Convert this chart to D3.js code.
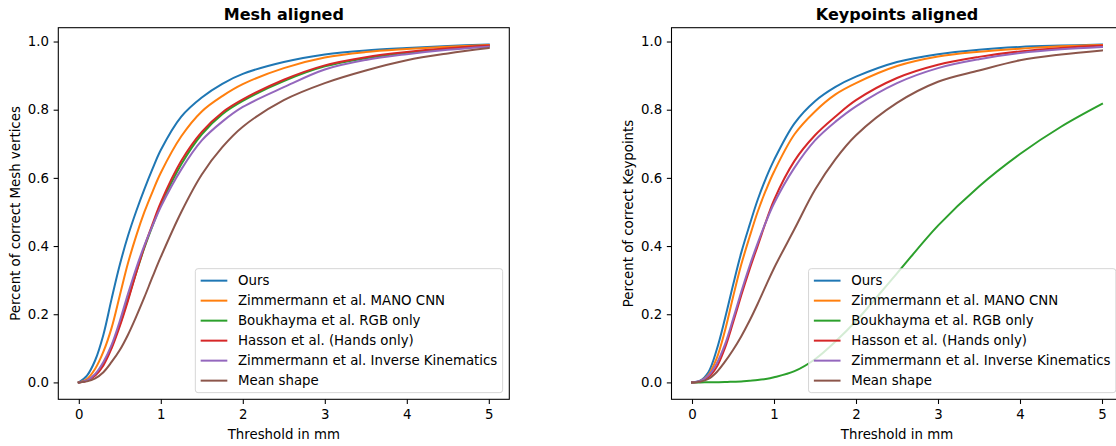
<!DOCTYPE html>
<html>
<head>
<meta charset="utf-8">
<script src="https://cdn.jsdelivr.net/npm/d3@7"></script>
<style>
body { margin: 0; background: #fff; }
svg { display: block; font-family: "DejaVu Sans", sans-serif; }
</style>
</head>
<body>
<script>
// thresholds (mm) shared by every curve
var thresholds = [0, 0.1, 0.2, 0.3, 0.4, 0.5, 0.6, 0.7, 0.8, 0.9, 1.0, 1.25, 1.5, 1.75, 2.0, 2.5, 3.0, 3.5, 4.0, 4.5, 5.0]

var methodLabels = ["Ours", "Zimmermann et al. MANO CNN", "Boukhayma et al. RGB only",
  "Hasson et al. (Hands only)", "Zimmermann et al. Inverse Kinematics", "Mean shape"]

// Mesh aligned
var meshOurs = [0, 0.02, 0.065, 0.14, 0.245, 0.345, 0.43, 0.502, 0.567, 0.627, 0.682, 0.78, 0.836, 0.876, 0.905, 0.94, 0.962, 0.974, 0.981, 0.987, 0.991]
var meshMano = [0, 0.01, 0.04, 0.09, 0.16, 0.255, 0.35, 0.43, 0.5, 0.56, 0.615, 0.722, 0.795, 0.84, 0.875, 0.922, 0.953, 0.969, 0.978, 0.985, 0.99]
var meshBoukhayma = [0, 0.005, 0.022, 0.055, 0.105, 0.17, 0.245, 0.322, 0.395, 0.46, 0.52, 0.64, 0.728, 0.787, 0.826, 0.884, 0.927, 0.951, 0.967, 0.979, 0.987]
var meshHasson = [0, 0.005, 0.02, 0.05, 0.1, 0.165, 0.24, 0.322, 0.398, 0.465, 0.528, 0.65, 0.735, 0.792, 0.83, 0.888, 0.93, 0.954, 0.969, 0.98, 0.988]
var meshIK = [0, 0.006, 0.025, 0.06, 0.11, 0.18, 0.26, 0.335, 0.402, 0.46, 0.515, 0.625, 0.71, 0.765, 0.808, 0.866, 0.918, 0.946, 0.963, 0.976, 0.985]
var meshMean = [0, 0.003, 0.012, 0.03, 0.06, 0.095, 0.14, 0.193, 0.25, 0.31, 0.368, 0.5, 0.61, 0.69, 0.75, 0.828, 0.878, 0.915, 0.945, 0.965, 0.981]

// Keypoints aligned
var kpOurs = [0, 0.005, 0.03, 0.095, 0.185, 0.285, 0.38, 0.46, 0.535, 0.598, 0.652, 0.76, 0.825, 0.867, 0.897, 0.94, 0.963, 0.976, 0.984, 0.988, 0.991]
var kpMano = [0, 0.004, 0.022, 0.07, 0.15, 0.25, 0.345, 0.425, 0.5, 0.563, 0.618, 0.728, 0.795, 0.845, 0.878, 0.928, 0.956, 0.97, 0.979, 0.986, 0.99]
var kpBoukhayma = [0, 0, 0.0003, 0.0006, 0.001, 0.002, 0.003, 0.005, 0.007, 0.01, 0.015, 0.033, 0.068, 0.12, 0.18, 0.32, 0.46, 0.575, 0.67, 0.75, 0.817]
var kpHasson = [0, 0.003, 0.015, 0.045, 0.1, 0.175, 0.255, 0.33, 0.4, 0.47, 0.535, 0.65, 0.725, 0.78, 0.828, 0.893, 0.932, 0.955, 0.971, 0.981, 0.988]
var kpIK = [0, 0.004, 0.02, 0.055, 0.11, 0.185, 0.265, 0.34, 0.408, 0.47, 0.525, 0.63, 0.71, 0.765, 0.81, 0.878, 0.922, 0.948, 0.966, 0.977, 0.984]
var kpMean = [0, 0.002, 0.01, 0.03, 0.06, 0.095, 0.135, 0.18, 0.23, 0.283, 0.335, 0.45, 0.565, 0.655, 0.725, 0.82, 0.882, 0.915, 0.945, 0.962, 0.974]

var xTicks = [0, 1, 2, 3, 4, 5]
var yTicks = [0, 0.2, 0.4, 0.6, 0.8, 1.0]

var colors = d3.schemeCategory10
var fs = 13.33

var svg = d3.select("body").append("svg")
  .attr("width", 1116)
  .attr("height", 446)

svg.append("rect")
  .attr("width", 1116)
  .attr("height", 446)
  .attr("fill", "#fff")

function drawPanel(left, title, ylabel, series) {
  var right = left + 451
  var top = 27.7
  var bottom = 399.3

  var x = d3.scaleLinear().domain([-0.25, 5.25]).range([left, right])
  var maxV = d3.max(series, function(s){ return d3.max(s) })
  var y = d3.scaleLinear().domain([-0.05 * maxV, 1.05 * maxV]).range([bottom, top])

  var g = svg.append("g")

  var line = d3.line()
    .x(function(d, i){ return x(thresholds[i]) })
    .y(function(d){ return y(d) })
    .curve(d3.curveCatmullRom.alpha(0.5))

  g.selectAll("path.curve")
    .data(series)
    .enter()
    .append("path")
    .classed("curve", true)
    .attr("d", line)
    .attr("fill", "none")
    .attr("stroke", function(d, i){ return colors[i] })
    .attr("stroke-width", 2)
    .attr("stroke-linejoin", "round")
    .attr("stroke-linecap", "square")

  // axes
  var xAxis = g.append("g")
    .attr("transform", "translate(0," + bottom + ")")
    .call(d3.axisBottom(x).tickValues(xTicks).tickSize(4.67).tickPadding(6).tickFormat(d3.format("d")))
  var yAxis = g.append("g")
    .attr("transform", "translate(" + left + ",0)")
    .call(d3.axisLeft(y).tickValues(yTicks).tickSize(4.67).tickPadding(4.67).tickFormat(d3.format(".1f")))

  ;[xAxis, yAxis].forEach(function(a){
    a.select(".domain").remove()
    a.attr("font-family", null).attr("font-size", null)
    a.selectAll("line").attr("stroke", "#000").attr("stroke-width", 1.07)
    a.selectAll("text").attr("fill", "#000").style("font-size", fs + "px")
  })

  g.append("rect")
    .attr("x", left)
    .attr("y", top)
    .attr("width", right - left)
    .attr("height", bottom - top)
    .attr("fill", "none")
    .attr("stroke", "#000")
    .attr("stroke-width", 1.07)

  // labels
  g.append("text")
    .attr("x", (left + right) / 2)
    .attr("y", 19.7)
    .attr("text-anchor", "middle")
    .style("font-size", "16px")
    .style("font-weight", "bold")
    .text(title)

  g.append("text")
    .attr("x", (left + right) / 2)
    .attr("y", 438.5)
    .attr("text-anchor", "middle")
    .style("font-size", fs + "px")
    .text("Threshold in mm")

  g.append("text")
    .attr("transform", "translate(" + (left - 38.5) + "," + ((top + bottom) / 2) + ") rotate(-90)")
    .attr("text-anchor", "middle")
    .style("font-size", fs + "px")
    .text(ylabel)

  // legend, lower right
  var leg = g.append("g")
  var box = leg.append("rect")
  var rowH = fs * 1.5
  var pad = fs * 0.4
  var handleLen = fs * 2
  var textPad = fs * 0.8
  var maxW = 0
  methodLabels.forEach(function(lbl, i){
    var t = leg.append("text")
      .attr("y", pad + i * rowH + fs / 2 + fs * 0.36)
      .style("font-size", fs + "px")
      .text(lbl)
    maxW = Math.max(maxW, t.node().getComputedTextLength())
  })
  var legW = pad + handleLen + textPad + maxW + pad
  var legH = pad * 2 + rowH * 6 - fs * 0.5
  var legX = right - fs * 0.5 - legW
  var legY = bottom - fs * 0.5 - legH
  leg.attr("transform", "translate(" + legX + "," + legY + ")")
  leg.selectAll("text").attr("x", pad + handleLen + textPad)
  box.attr("width", legW)
    .attr("height", legH)
    .attr("rx", 2.7)
    .attr("fill", "#fff")
    .attr("fill-opacity", 0.8)
    .attr("stroke", "#ccc")
    .attr("stroke-opacity", 0.8)
    .attr("stroke-width", 1)
  leg.selectAll("line.handle")
    .data(methodLabels)
    .enter()
    .append("line")
    .classed("handle", true)
    .attr("x1", pad)
    .attr("x2", pad + handleLen)
    .attr("y1", function(d, i){ return pad + i * rowH + fs / 2 })
    .attr("y2", function(d, i){ return pad + i * rowH + fs / 2 })
    .attr("stroke", function(d, i){ return colors[i] })
    .attr("stroke-width", 2)
}

drawPanel(58.3, "Mesh aligned", "Percent of correct Mesh vertices",
  [meshOurs, meshMano, meshBoukhayma, meshHasson, meshIK, meshMean])

drawPanel(671.5, "Keypoints aligned", "Percent of correct Keypoints",
  [kpOurs, kpMano, kpBoukhayma, kpHasson, kpIK, kpMean])
</script>
</body>
</html>
